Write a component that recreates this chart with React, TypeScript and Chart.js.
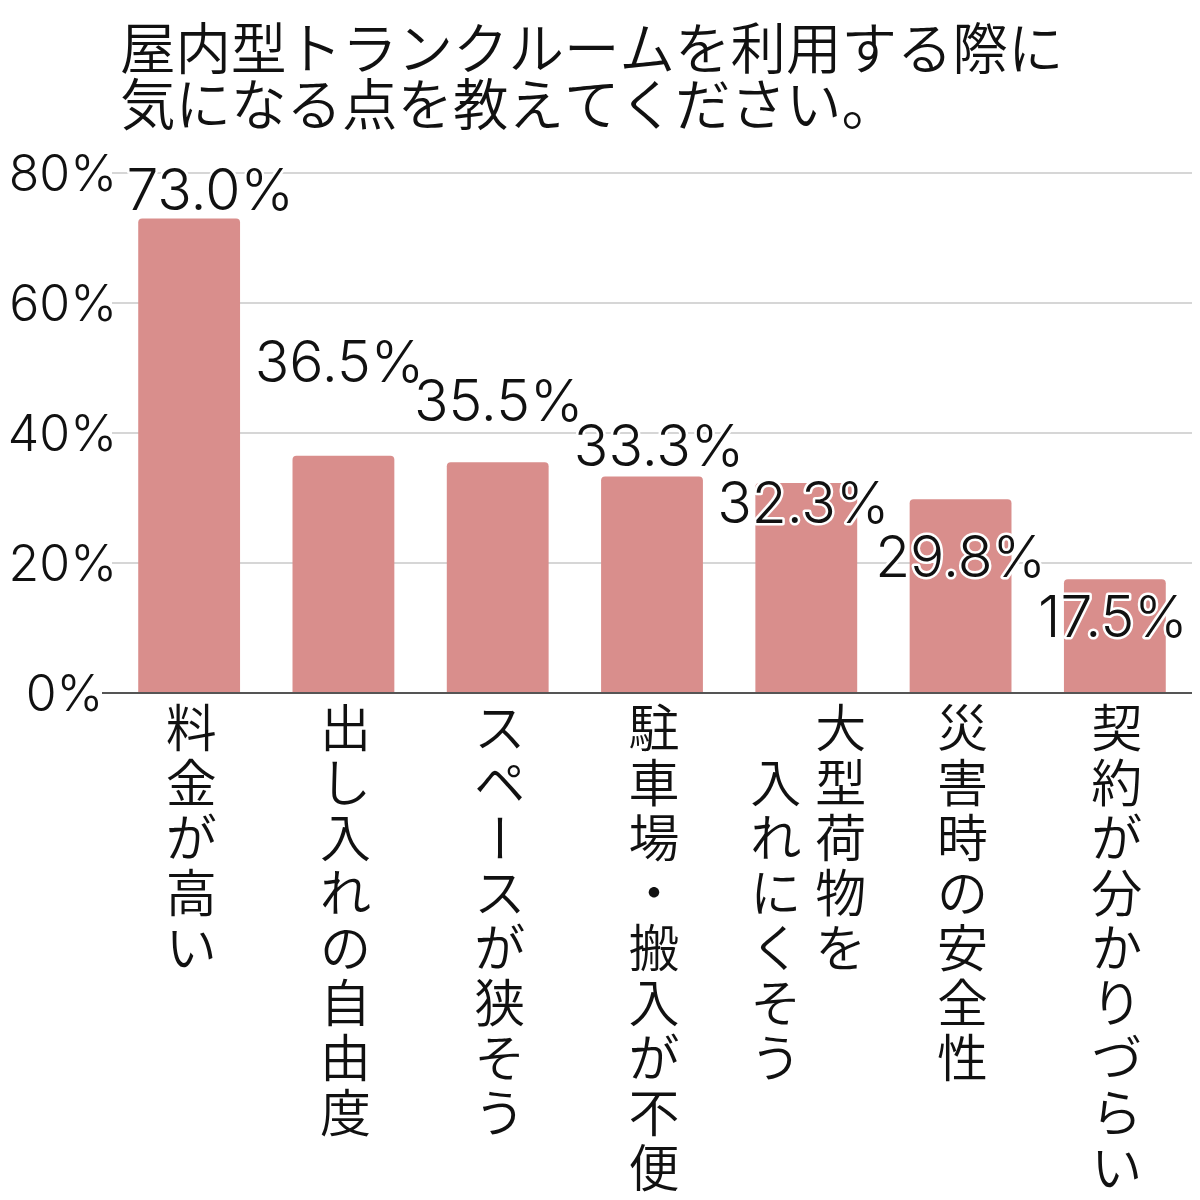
import React, { useEffect, useRef } from "react";
import { Chart, registerables } from "chart.js";

Chart.register(...registerables);

const titleLines = ["屋内型トランクルームを利用する際に", "気になる点を教えてください。"];
const categories: string[][] = [
  ["料金が高い"],
  ["出し入れの自由度"],
  ["スペースが狭そう"],
  ["駐車場・搬入が不便"],
  ["大型荷物を", "入れにくそう"],
  ["災害時の安全性"],
  ["契約が分かりづらい"],
];
const values = [73.0, 36.5, 35.5, 33.3, 32.3, 29.8, 17.5];
const yTickValues = [0, 20, 40, 60, 80];

const JP_FONT = '"Noto Sans CJK JP", "Noto Sans", sans-serif';
const NUM_FONT = 'Inter, "Liberation Sans", sans-serif';
const JP_WEIGHT = 350;
const NUM_WEIGHT = 350;

const jpTitle = {
  id: "jpTitle",
  afterDraw(chart: any) {
    const { ctx, chartArea } = chart;
    ctx.save();
    ctx.font = `${JP_WEIGHT} 55.5px ${JP_FONT}`;
    ctx.fillStyle = "#111";
    ctx.textAlign = "left";
    ctx.textBaseline = "alphabetic";
    titleLines.forEach((line, i) => {
      ctx.fillText(line, chartArea.left + 8, chartArea.top - 104 + i * 56);
    });
    ctx.restore();
  },
};

const valueLabels = {
  id: "valueLabels",
  afterDatasetsDraw(chart: any, _args: any, opts: any) {
    const { ctx } = chart;
    const meta = chart.getDatasetMeta(0);
    ctx.save();
    ctx.font = `${NUM_WEIGHT} 57px ${NUM_FONT}`;
    ctx.textAlign = "center";
    ctx.textBaseline = "alphabetic";
    ctx.lineJoin = "round";
    meta.data.forEach((bar: any, i: number) => {
      const v = chart.data.datasets[0].data[i] as number;
      const text = v.toFixed(1) + "%";
      const x = bar.x + (opts.dx[i] || 0);
      const y = bar.y + (opts.dy[i] || 0);
      ctx.strokeStyle = "#ffffff";
      ctx.lineWidth = 5;
      ctx.strokeText(text, x, y);
      ctx.fillStyle = "#111";
      ctx.fillText(text, x, y);
    });
    ctx.restore();
  },
};

const verticalCategoryLabels = {
  id: "verticalCategoryLabels",
  afterDraw(chart: any, _args: any, opts: any) {
    const { ctx, chartArea } = chart;
    const xScale = chart.scales.x;
    const fs = opts.fontSize;
    const pitch = opts.pitch;
    const colGap = opts.colGap;
    ctx.save();
    ctx.font = `${JP_WEIGHT} ${fs}px ${JP_FONT}`;
    ctx.fillStyle = "#111";
    ctx.textAlign = "center";
    ctx.textBaseline = "alphabetic";
    categories.forEach((cols, i) => {
      const cx = xScale.getPixelForValue(i) + opts.xShift;
      const n = cols.length;
      cols.forEach((col, k) => {
        const x = cx + ((n - 1) / 2 - k) * colGap;
        const y0 = chartArea.bottom + opts.firstCenter + k * pitch;
        Array.from(col).forEach((ch, j) => {
          const cy = y0 + j * pitch;
          ctx.save();
          ctx.translate(x, cy);
          if (ch === "ー") ctx.rotate(Math.PI / 2);
          ctx.fillText(ch, 0, 0.38 * fs);
          ctx.restore();
        });
      });
    });
    ctx.restore();
  },
};

export default function App() {
  const canvasRef = useRef<HTMLCanvasElement | null>(null);

  useEffect(() => {
    if (!canvasRef.current) return;
    const chart = new Chart(canvasRef.current, {
      type: "bar",
      data: {
        labels: categories.map((c) => c.join("")),
        datasets: [
          {
            data: values,
            backgroundColor: "#D98E8C",
            borderRadius: 4,
            borderSkipped: "bottom",
            barPercentage: 0.66,
            categoryPercentage: 1,
          },
        ],
      },
      options: {
        animation: false,
        responsive: true,
        maintainAspectRatio: false,
        layout: { padding: { top: 165, right: 0, bottom: 0, left: 0 } },
        plugins: {
          legend: { display: false },
          tooltip: { enabled: false },
          title: { display: false },
          valueLabels: {
            dx: [21, -4, 1, 7, -3, 0, -2],
            dy: [-9, -74, -41, -11, 40, 78, 58],
          },
          verticalCategoryLabels: {
            fontSize: 51,
            pitch: 55,
            colGap: 65,
            firstCenter: 35,
            xShift: 2,
          },
        } as any,
        scales: {
          x: {
            grid: { display: false },
            ticks: { display: false },
            border: { display: true, color: "#555", width: 2 },
            afterFit: (s: any) => {
              s.height = 505;
            },
          },
          y: {
            min: 0,
            max: 80,
            afterBuildTicks: (s: any) => {
              s.ticks = yTickValues.map((v) => ({ value: v }));
            },
            ticks: {
              padding: -15,
              labelOffset: 3,
              color: "#111",
              font: { size: 50, family: NUM_FONT, weight: NUM_WEIGHT as any },
              callback: (v: any) => (v === 0 ? v + "%\u2009\u200A" : v + "%"),
            },
            grid: {
              drawTicks: true,
              tickLength: 10,
              tickWidth: 2,
              tickColor: (c: any) => (c.tick && c.tick.value === 0 ? "#555" : "rgba(0,0,0,0)"),
              lineWidth: 2,
              color: (c: any) => (c.tick && c.tick.value === 0 ? "#555" : "#d6d6d6"),
            },
            border: { display: false },
            afterFit: (s: any) => {
              s.width = 104;
            },
          },
        },
      },
      plugins: [jpTitle, valueLabels, verticalCategoryLabels],
    });
    return () => chart.destroy();
  }, []);

  return (
    <div style={{ width: 1184, height: 1190, position: "relative" }}>
      <canvas ref={canvasRef} />
    </div>
  );
}
